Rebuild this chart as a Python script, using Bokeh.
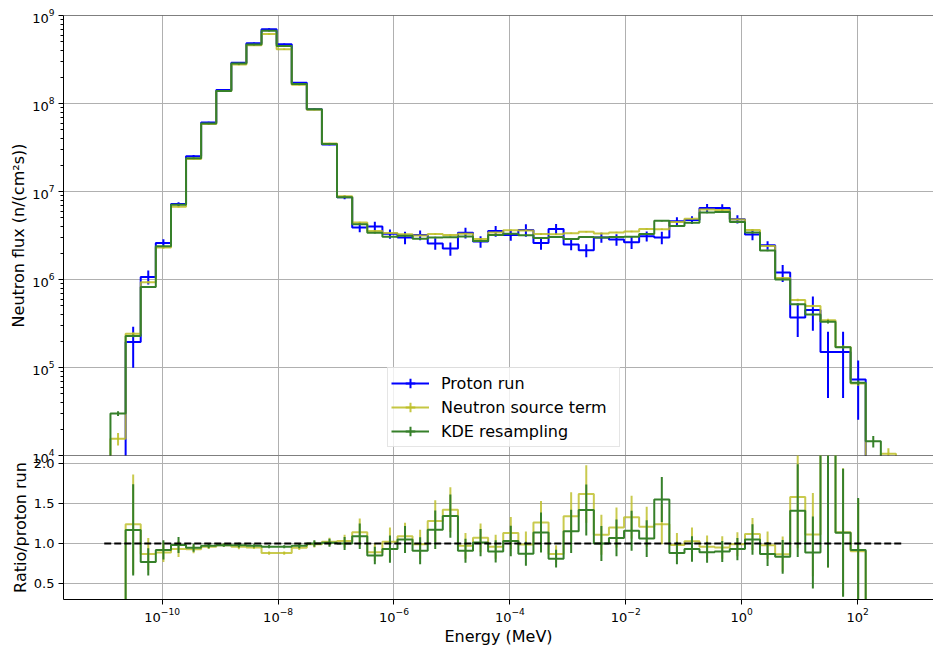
import numpy as np
from bokeh.plotting import figure
from bokeh.models import (Range1d, FixedTicker, Legend, LegendItem, Grid, Span,
                          PrintfTickFormatter)
from bokeh.layouts import column
from bokeh.embed import file_html
from bokeh.resources import INLINE

# ---------------- data ----------------
edges_mev = [1.28e-11, 2.34e-11, 4.26e-11, 7.76e-11, 1.42e-10, 2.58e-10, 4.70e-10,
             8.57e-10, 1.56e-9, 2.84e-9, 5.18e-9, 9.44e-9, 1.72e-8, 3.13e-8, 5.71e-8,
             1.04e-7, 1.90e-7, 3.46e-7, 6.31e-7, 1.15e-6, 2.09e-6, 3.82e-6, 6.95e-6,
             1.27e-5, 2.31e-5, 4.21e-5, 7.67e-5, 1.40e-4, 2.55e-4, 4.65e-4, 8.45e-4,
             1.54e-3, 2.81e-3, 5.12e-3, 9.33e-3, 1.70e-2, 3.10e-2, 5.65e-2, 1.03e-1,
             1.87e-1, 3.42e-1, 6.24e-1, 1.14, 2.07, 3.78, 6.87, 12.5, 22.9, 41.6,
             75.9, 138.0, 252.0, 459.0]

proton_flux = [0, 1.95e5, 1.07e6, 2.6e6, 7.2e6, 2.52e7, 6.1e7, 1.42e8, 2.9e8, 4.83e8,
               7.0e8, 4.7e8, 1.72e8, 8.6e7, 3.43e7, 8.6e6, 3.9e6, 4.0e6, 3.3e6, 3.0e6,
               3.2e6, 2.56e6, 2.25e6, 3.4e6, 2.7e6, 3.55e6, 3.2e6, 3.65e6, 2.6e6, 3.75e6,
               2.5e6, 2.15e6, 3.0e6, 2.85e6, 2.65e6, 3.1e6, 3.0e6, 4.6e6, 4.75e6, 6.5e6,
               6.5e6, 4.85e6, 3.25e6, 2.45e6, 1.2e6, 3.7e5, 4.5e5, 1.5e5, 1.5e5, 7.3e4,
               0, 0]
proton_rel_err = [0, 0.49, 0.18, 0.10, 0.05, 0.03, 0.02, 0.02, 0.02, 0.02,
                  0.02, 0.02, 0.02, 0.02, 0.02, 0.05, 0.12, 0.13, 0.12, 0.16,
                  0.13, 0.15, 0.17, 0.14, 0.15, 0.14, 0.14, 0.16, 0.16, 0.14,
                  0.14, 0.17, 0.13, 0.15, 0.16, 0.13, 0.16, 0.11, 0.10, 0.11,
                  0.10, 0.11, 0.14, 0.11, 0.22, 0.40, 0.42, 0.70, 0.70, 0.65,
                  0, 0]

source_flux = [1.55e4, 2.42e5, 9.3e5, 2.31e6, 6.7e6, 2.34e7, 5.86e7, 1.39e8, 2.78e8, 4.59e8,
               6.16e8, 4.14e8, 1.63e8, 8.51e7, 3.5e7, 8.86e6, 4.45e6, 3.56e6, 3.37e6, 3.27e6,
               3.17e6, 3.28e6, 3.2e6, 3.3e6, 2.89e6, 3.41e6, 3.62e6, 3.61e6, 3.28e6, 3.26e6,
               3.35e6, 3.48e6, 3.33e6, 3.42e6, 3.52e6, 3.75e6, 3.72e6, 4.51e6, 4.89e6, 6.24e6,
               6.18e6, 4.8e6, 3.64e6, 2.4e6, 1.04e6, 5.85e5, 5.0e5, 3.45e5, 1.71e5, 6.6e4,
               0, 1.05e4]
source_rel_err = [0.16, 0.04, 0.03, 0.03, 0.02, 0.02, 0.02, 0.02, 0.02, 0.02,
                  0.02, 0.02, 0.02, 0.02, 0.02, 0.02, 0.02, 0.02, 0.02, 0.02,
                  0.02, 0.02, 0.02, 0.02, 0.02, 0.02, 0.02, 0.02, 0.02, 0.02,
                  0.02, 0.02, 0.02, 0.02, 0.02, 0.02, 0.02, 0.02, 0.02, 0.02,
                  0.02, 0.02, 0.02, 0.02, 0.02, 0.03, 0.03, 0.04, 0.05, 0.06,
                  0, 0.15]

kde_flux = [3.0e4, 2.28e5, 8.24e5, 2.39e6, 7.06e6, 2.39e7, 5.92e7, 1.39e8, 2.84e8, 4.69e8,
            6.72e8, 4.51e8, 1.67e8, 8.6e7, 3.46e7, 8.6e6, 4.25e6, 3.4e6, 3.07e6, 3.15e6,
            2.91e6, 3.0e6, 3.02e6, 3.09e6, 2.73e6, 3.2e6, 3.3e6, 3.18e6, 2.96e6, 3.04e6,
            2.88e6, 3.05e6, 3.0e6, 3.05e6, 3.07e6, 3.29e6, 4.65e6, 4.05e6, 4.42e6, 5.79e6,
            5.85e6, 4.51e6, 3.41e6, 2.13e6, 1.0e6, 5.22e5, 4.0e5, 3.3e5, 1.7e5, 6.7e4,
            1.45e4, 0]
kde_rel_err = [0.06, 0.03, 0.02, 0.02, 0.02, 0.02, 0.02, 0.02, 0.02, 0.02,
               0.02, 0.02, 0.02, 0.02, 0.02, 0.02, 0.02, 0.02, 0.02, 0.02,
               0.02, 0.02, 0.02, 0.02, 0.02, 0.02, 0.02, 0.02, 0.02, 0.02,
               0.02, 0.02, 0.02, 0.02, 0.02, 0.02, 0.02, 0.02, 0.02, 0.02,
               0.02, 0.02, 0.02, 0.02, 0.02, 0.03, 0.03, 0.04, 0.05, 0.06,
               0.15, 0]

ratio_err_source = [0, 0.62, 0.20, 0.12, 0.10, 0.05, 0.03, 0.02, 0.03, 0.02,
                    0.02, 0.02, 0.03, 0.04, 0.05, 0.08, 0.17, 0.11, 0.18, 0.17,
                    0.18, 0.26, 0.28, 0.16, 0.18, 0.15, 0.20, 0.16, 0.27, 0.11,
                    0.30, 0.36, 0.25, 0.25, 0.27, 0.25, 0.25, 0.15, 0.17, 0.14,
                    0.14, 0.15, 0.20, 0.17, 0.22, 0.64, 0.52, 1.60, 0.80, 0.65,
                    0, 0]
ratio_err_kde = [0, 0.57, 0.17, 0.12, 0.10, 0.05, 0.03, 0.02, 0.03, 0.02,
                 0.02, 0.02, 0.03, 0.04, 0.05, 0.08, 0.16, 0.11, 0.17, 0.17,
                 0.17, 0.24, 0.27, 0.15, 0.17, 0.14, 0.19, 0.15, 0.25, 0.11,
                 0.27, 0.32, 0.22, 0.23, 0.25, 0.23, 0.28, 0.14, 0.16, 0.13,
                 0.13, 0.14, 0.19, 0.15, 0.21, 0.58, 0.45, 1.50, 0.80, 0.65,
                 0, 0]

series_labels = ["Proton run", "Neutron source term", "KDE resampling"]
x_tick_values = [1e-10, 1e-8, 1e-6, 1e-4, 1e-2, 1e0, 1e2]
flux_tick_values = [1e4, 1e5, 1e6, 1e7, 1e8, 1e9]
ratio_tick_values = [0.5, 1.0, 1.5, 2.0]
reference_line_x = [1e-11, 6.3e2]
reference_line_y = [1.0, 1.0]

# ---------------- styling ----------------
FONT = "DejaVu Sans"
BLUE = "#0000ff"
OLIVE = "#bcbd22"
GREEN = "#36802a"
GRID = "#b0b0b0"
W = 933
LEFT = 63
OVERLAP = 12          # top canvas reaches this far under the ratio panel
X_LOG_MIN, X_LOG_MAX = -11.703, 3.31

edges = np.array(edges_mev, dtype=float)
centers = np.sqrt(edges[:-1] * edges[1:])
proton = np.array(proton_flux, dtype=float)
source = np.array(source_flux, dtype=float)
kde = np.array(kde_flux, dtype=float)

ratio_source = np.divide(source, proton, out=np.zeros_like(source), where=proton > 0)
ratio_kde = np.divide(kde, proton, out=np.zeros_like(kde), where=proton > 0)

LOG_FLOOR = 1e-3


def stairs(vals, floor):
    v = np.where(vals > 0, vals, floor)
    xs = [edges[0]]
    ys = [floor]
    for i in range(len(v)):
        xs += [edges[i], edges[i + 1]]
        ys += [v[i], v[i]]
    xs.append(edges[-1])
    ys.append(floor)
    return xs, ys


x_range = Range1d(10 ** X_LOG_MIN, 10 ** X_LOG_MAX)

# ---------------- top panel ----------------
top = figure(width=W, height=455 + OVERLAP, x_axis_type="log", y_axis_type="log",
             x_range=x_range, y_range=Range1d(1e4, 1e9),
             x_axis_location=None, output_backend="svg", toolbar_location=None,
             min_border_left=LEFT, min_border_right=0, min_border_top=15,
             min_border_bottom=OVERLAP)
top.outline_line_color = None
top.background_fill_color = "white"
top.border_fill_color = "white"

ya = top.yaxis[0]
ya.ticker = FixedTicker(ticks=flux_tick_values,
                        minor_ticks=[k * 10.0 ** d for d in range(4, 9) for k in range(2, 10)])
ya.axis_label = "Neutron flux (n/(cm²s))"
ya.axis_label_text_font = FONT
ya.axis_label_text_font_size = "16px"
ya.axis_label_text_font_style = "normal"
ya.axis_label_text_color = "black"
ya.axis_label_standoff = 1
ya.major_label_text_font = FONT
ya.major_label_text_font_size = "13px"
ya.major_label_text_color = "black"
ya.major_label_standoff = 4
ya.major_tick_out = 5
ya.major_tick_in = 0
ya.minor_tick_out = 3
ya.minor_tick_in = 0
ya.axis_line_color = "black"
ya.major_tick_line_color = "black"
ya.minor_tick_line_color = "black"

top.ygrid.grid_line_color = GRID
top.ygrid.grid_line_width = 1
if len(top.xgrid) > 0:
    for g in top.xgrid:
        g.ticker = FixedTicker(ticks=x_tick_values)
        g.grid_line_color = GRID
        g.grid_line_width = 1
else:
    top.add_layout(Grid(dimension=0, ticker=FixedTicker(ticks=x_tick_values),
                        grid_line_color=GRID, grid_line_width=1))

renders_top = []
for vals, rel, color, alpha in [(proton, proton_rel_err, BLUE, 1.0),
                                (source, source_rel_err, OLIVE, 0.85),
                                (kde, kde_rel_err, GREEN, 1.0)]:
    xs, ys = stairs(vals, LOG_FLOOR)
    r = top.line(xs, ys, line_color=color, line_width=2, line_alpha=alpha)
    err = vals * np.array(rel, dtype=float)
    m = (vals > 0) & (err > 0)
    lo = np.maximum(vals[m] - err[m], LOG_FLOOR)
    hi = vals[m] + err[m]
    top.segment(x0=centers[m], y0=lo, x1=centers[m], y1=hi,
                line_color=color, line_width=2, line_alpha=alpha)
    # off-screen marker, only used to give the legend entry its "+" shape
    c = top.scatter(x=[1e-30], y=[1e-30], marker="cross", size=10, line_color=color,
                    line_width=2, line_alpha=alpha)
    renders_top.append([r, c])

legend = Legend(items=[LegendItem(label=lab, renderers=rr)
                       for lab, rr in zip(series_labels, renders_top)],
                location=(324, 8))
legend.label_text_font = FONT
legend.label_text_font_size = "16px"
legend.label_text_color = "black"
legend.glyph_width = 38
legend.glyph_height = 24
legend.label_height = 24
legend.label_width = 175
legend.label_standoff = 12
legend.spacing = 0
legend.padding = 3
legend.margin = 0
legend.border_line_color = "#cccccc"
legend.border_line_width = 1
legend.background_fill_color = "white"
legend.background_fill_alpha = 0.8
top.add_layout(legend)

top.add_layout(Span(location=1e9, dimension="width", line_color="black", line_width=1))
top.add_layout(Span(location=1e4, dimension="width", line_color="black", line_width=1))

# ---------------- ratio panel ----------------
bot = figure(width=W, height=193, x_axis_type="log", x_range=x_range,
             y_range=Range1d(0.3, 2.1), output_backend="svg", toolbar_location=None,
             min_border_left=LEFT, min_border_right=0, min_border_top=0,
             min_border_bottom=46)
bot.margin = (-OVERLAP, 0, 0, 0)
bot.outline_line_color = None
bot.background_fill_alpha = 0
bot.border_fill_alpha = 0

xa = bot.xaxis[0]
xa.ticker = FixedTicker(ticks=x_tick_values, minor_ticks=[])
xa.axis_label = "Energy (MeV)"
for ax in (xa, bot.yaxis[0]):
    ax.axis_label_text_font = FONT
    ax.axis_label_text_font_size = "16px"
    ax.axis_label_text_font_style = "normal"
    ax.axis_label_text_color = "black"
    ax.major_label_text_font = FONT
    ax.major_label_text_font_size = "13px"
    ax.major_label_text_color = "black"
    ax.major_tick_out = 5
    ax.major_tick_in = 0
    ax.minor_tick_out = 0
    ax.minor_tick_in = 0
    ax.axis_line_color = "black"
    ax.major_tick_line_color = "black"
xa.axis_label_standoff = 2
xa.major_label_standoff = 3

yb = bot.yaxis[0]
yb.ticker = FixedTicker(ticks=ratio_tick_values)
yb.formatter = PrintfTickFormatter(format="%.1f")
yb.axis_label = "Ratio/proton run"
yb.axis_label_standoff = 1
yb.major_label_standoff = 4

bot.xgrid.grid_line_color = GRID
bot.xgrid.grid_line_width = 1
bot.ygrid.grid_line_color = GRID
bot.ygrid.grid_line_width = 1

for ratio, rerr, color, alpha in [(ratio_source, ratio_err_source, OLIVE, 0.8),
                                  (ratio_kde, ratio_err_kde, GREEN, 1.0)]:
    xs, ys = stairs(ratio, 0.0)
    bot.line(xs, ys, line_color=color, line_width=2, line_alpha=alpha)
    e = np.array(rerr, dtype=float)
    m = (ratio > 0) & (e > 0)
    bot.segment(x0=centers[m], y0=ratio[m] - e[m], x1=centers[m], y1=ratio[m] + e[m],
                line_color=color, line_width=2, line_alpha=alpha)

bot.line(reference_line_x, reference_line_y, line_color="black", line_width=2,
         line_dash="7 3")

layout = column(top, bot, spacing=0)
open("out.html", "w").write(file_html(layout, INLINE))
